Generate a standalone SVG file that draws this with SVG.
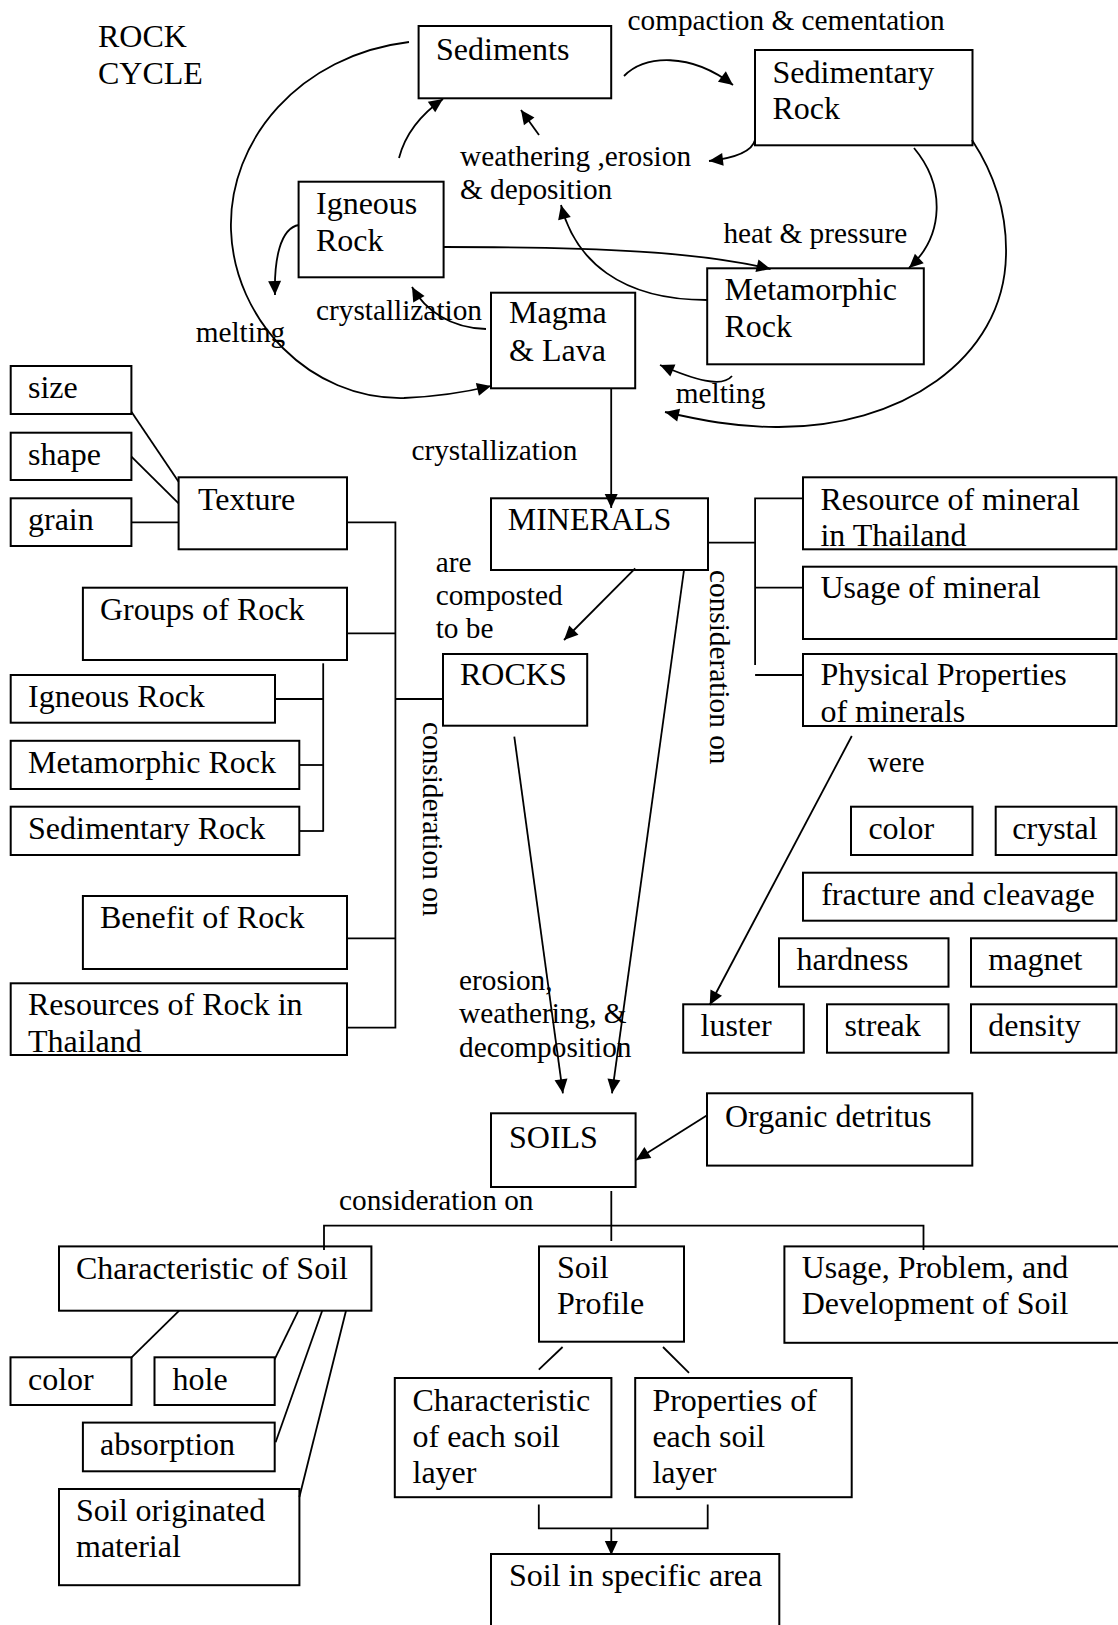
<svg xmlns="http://www.w3.org/2000/svg" width="1118" height="1625" viewBox="0 0 1118 1625">
<defs>
<marker id="ah" markerUnits="userSpaceOnUse" markerWidth="15" markerHeight="14" refX="14" refY="6.5" orient="auto" overflow="visible">
<path d="M0,0 L14,6.5 L0,13 z" fill="#000"/>
</marker>
<style>
rect{fill:#fff;stroke:#000;stroke-width:2}
text{font-family:"Liberation Serif","Times New Roman",serif;fill:#000}
.bt{font-size:32px}
.lb{font-size:29.3px}
#connectors path{fill:none;stroke:#000;stroke-width:1.8}
.arr{marker-end:url(#ah)}
</style>
</defs>
<rect x="0" y="0" width="1118" height="1625" style="fill:#fff;stroke:none"/>

<g id="labels">
<text class="bt" x="98" y="47">ROCK</text>
<text class="bt" x="98" y="84">CYCLE</text>
<text class="lb" x="627.5" y="30">compaction &amp; cementation</text>
<text class="lb" x="460" y="165.7">weathering ,erosion</text>
<text class="lb" x="460" y="199">&amp; deposition</text>
<text class="lb" x="723.4" y="242.7">heat &amp; pressure</text>
<text class="lb" x="316" y="320">crystallization</text>
<text class="lb" x="195.7" y="341.7">melting</text>
<text class="lb" x="675.8" y="403.3">melting</text>
<text class="lb" x="411.4" y="460">crystallization</text>
<text class="lb" x="435.7" y="571.7">are</text>
<text class="lb" x="435.7" y="605">composted</text>
<text class="lb" x="435.7" y="638.3">to be</text>
<text class="lb" transform="translate(423,722) rotate(90)">consideration on</text>
<text class="lb" transform="translate(710,570) rotate(90)">consideration on</text>
<text class="lb" x="867.7" y="771.7">were</text>
<text class="lb" x="459" y="990">erosion,</text>
<text class="lb" x="459" y="1023.3">weathering, &amp;</text>
<text class="lb" x="459" y="1056.7">decomposition</text>
<text class="lb" x="339" y="1210">consideration on</text>
</g>

<g id="sediments"><rect x="418.6" y="26" width="192.6" height="72.3"/><text class="bt" x="436" y="60">Sediments</text></g>
<g id="sedimentary-rock"><rect x="755" y="50" width="217.5" height="95.3"/><text class="bt" x="772.5" y="82.5">Sedimentary</text><text class="bt" x="772.5" y="119">Rock</text></g>
<g id="igneous-rock"><rect x="298.6" y="181.7" width="145" height="95.6"/><text class="bt" x="316" y="214">Igneous</text><text class="bt" x="316" y="250.5">Rock</text></g>
<g id="metamorphic-rock"><rect x="707.2" y="268.3" width="216.6" height="96"/><text class="bt" x="724.5" y="300">Metamorphic</text><text class="bt" x="724.5" y="337">Rock</text></g>
<g id="magma-lava"><rect x="491" y="292.7" width="144.2" height="95.6"/><text class="bt" x="509" y="323.3">Magma</text><text class="bt" x="509" y="361">&amp; Lava</text></g>

<g id="minerals"><rect x="491" y="498.3" width="217" height="71.7"/><text class="bt" x="507.7" y="530">MINERALS</text></g>
<g id="rocks"><rect x="443" y="654" width="144.2" height="71.7"/><text class="bt" x="460" y="685">ROCKS</text></g>

<g id="resource-mineral"><rect x="803" y="477.3" width="313.4" height="72"/><text class="bt" x="820.4" y="510">Resource of mineral</text><text class="bt" x="820.4" y="546">in Thailand</text></g>
<g id="usage-mineral"><rect x="803" y="566.7" width="313.4" height="72.3"/><text class="bt" x="820.4" y="598.3">Usage of mineral</text></g>
<g id="physical-properties"><rect x="803" y="654" width="313.4" height="72"/><text class="bt" x="820.4" y="685">Physical Properties</text><text class="bt" x="820.4" y="721.7">of minerals</text></g>

<g id="m-color"><rect x="851" y="806.7" width="121.5" height="48.3"/><text class="bt" x="868.4" y="839.3">color</text></g>
<g id="m-crystal"><rect x="995.7" y="806.7" width="120.7" height="48.3"/><text class="bt" x="1012.3" y="839.3">crystal</text></g>
<g id="m-fracture"><rect x="803" y="872.7" width="313.4" height="48"/><text class="bt" x="821.2" y="905">fracture and cleavage</text></g>
<g id="m-hardness"><rect x="779" y="938.3" width="169.5" height="48.4"/><text class="bt" x="796.5" y="970">hardness</text></g>
<g id="m-magnet"><rect x="971" y="938.3" width="145.4" height="48.4"/><text class="bt" x="988.3" y="970">magnet</text></g>
<g id="m-luster"><rect x="683.2" y="1004.3" width="120.6" height="48.4"/><text class="bt" x="700.5" y="1036">luster</text></g>
<g id="m-streak"><rect x="827" y="1004.3" width="121.5" height="48.4"/><text class="bt" x="844.4" y="1036">streak</text></g>
<g id="m-density"><rect x="971" y="1004.3" width="145.4" height="48.4"/><text class="bt" x="988.3" y="1036">density</text></g>

<g id="t-size"><rect x="10.7" y="366" width="120.7" height="48"/><text class="bt" x="28" y="398">size</text></g>
<g id="t-shape"><rect x="10.7" y="432.7" width="120.7" height="47.3"/><text class="bt" x="28" y="465">shape</text></g>
<g id="t-grain"><rect x="10.7" y="498.3" width="120.7" height="47.7"/><text class="bt" x="28" y="530">grain</text></g>
<g id="texture"><rect x="178.6" y="477.3" width="168.4" height="72"/><text class="bt" x="198" y="510">Texture</text></g>
<g id="groups-of-rock"><rect x="82.9" y="587.7" width="264.1" height="72.3"/><text class="bt" x="100" y="620">Groups of Rock</text></g>
<g id="g-igneous"><rect x="10.7" y="675" width="264.3" height="47.7"/><text class="bt" x="28" y="707">Igneous Rock</text></g>
<g id="g-metamorphic"><rect x="10.7" y="740.8" width="288.6" height="48.2"/><text class="bt" x="28" y="773">Metamorphic Rock</text></g>
<g id="g-sedimentary"><rect x="10.7" y="806.7" width="288.6" height="48.3"/><text class="bt" x="28" y="839">Sedimentary Rock</text></g>
<g id="benefit-rock"><rect x="82.9" y="896" width="264.1" height="73"/><text class="bt" x="100" y="928.3">Benefit of Rock</text></g>
<g id="resources-rock"><rect x="10.7" y="983.3" width="336.3" height="71.7"/><text class="bt" x="28" y="1015">Resources of Rock in</text><text class="bt" x="28" y="1051.7">Thailand</text></g>

<g id="organic-detritus"><rect x="707" y="1093.3" width="265.3" height="72.3"/><text class="bt" x="725" y="1127">Organic detritus</text></g>
<g id="soils"><rect x="491" y="1113.3" width="144.6" height="73.7"/><text class="bt" x="509" y="1148">SOILS</text></g>
<g id="char-soil"><rect x="59" y="1246.4" width="312.4" height="64.3"/><text class="bt" x="76" y="1278.5">Characteristic of Soil</text></g>
<g id="soil-profile"><rect x="539" y="1246.4" width="145" height="95.3"/><text class="bt" x="557" y="1277.5">Soil</text><text class="bt" x="557" y="1314">Profile</text></g>
<g id="usage-soil"><rect x="784.4" y="1246.4" width="345" height="96.4"/><text class="bt" x="801.7" y="1277.5">Usage, Problem, and</text><text class="bt" x="801.7" y="1314">Development of Soil</text></g>
<g id="s-color"><rect x="10.5" y="1357.3" width="121" height="47.7"/><text class="bt" x="28" y="1390">color</text></g>
<g id="s-hole"><rect x="154.5" y="1357.3" width="120.2" height="47.7"/><text class="bt" x="172.5" y="1390">hole</text></g>
<g id="s-absorption"><rect x="82.9" y="1422.6" width="191.8" height="48.7"/><text class="bt" x="100" y="1455">absorption</text></g>
<g id="s-originated"><rect x="59" y="1489" width="240.4" height="96.2"/><text class="bt" x="76" y="1521">Soil originated</text><text class="bt" x="76" y="1557">material</text></g>
<g id="char-layer"><rect x="394.8" y="1378" width="216.6" height="119.2"/><text class="bt" x="412.5" y="1410.5">Characteristic</text><text class="bt" x="412.5" y="1446.5">of each soil</text><text class="bt" x="412.5" y="1482.5">layer</text></g>
<g id="prop-layer"><rect x="635.2" y="1378" width="216.5" height="119.2"/><text class="bt" x="652.4" y="1410.5">Properties of</text><text class="bt" x="652.4" y="1446.5">each soil</text><text class="bt" x="652.4" y="1482.5">layer</text></g>
<g id="soil-area"><rect x="491" y="1554" width="288.3" height="80"/><text class="bt" x="509" y="1586">Soil in specific area</text></g>

<g id="connectors">
<!-- rock cycle -->
<path class="arr" d="M409,42 C300,55 228,140 231,230 C234,320 310,400 404,398 Q450,396 491,386"/>
<path class="arr" d="M399,158 C405,135 420,115 443,99"/>
<path class="arr" d="M539,135 L521,110"/>
<path class="arr" d="M624,76 C645,55 690,52 733,85"/>
<path class="arr" d="M755,140 C752,152 735,158 709,161"/>
<path class="arr" d="M914,148 C945,185 945,235 909,268"/>
<path class="arr" d="M972,140 C995,175 1007,215 1006,255 C1004,360 900,428 776,427 C735,427 700,420 665,412"/>
<path class="arr" d="M443.6,247 C600,247 700,252 770.6,269"/>
<path class="arr" d="M707,300 C620,300 575,260 561,205"/>
<path class="arr" d="M486,329 C450,328 425,310 412,287"/>
<path class="arr" d="M299,225 C280,228 274,260 275,295"/>
<path class="arr" d="M732,376 C722,388 695,380 660,365"/>
<path class="arr" d="M611.2,388.3 L611.2,508"/>
<!-- texture -->
<path d="M131.4,411.7 L178.6,481.7"/>
<path d="M131.4,456.7 L178.6,503.3"/>
<path d="M131.4,522.3 L178.6,522.3"/>
<!-- rocks bracket -->
<path d="M347,522.3 H395.4 V1027.7 H347"/>
<path d="M347,633.3 H395.4"/>
<path d="M347,938.3 H395.4"/>
<path d="M395.4,699 H443"/>
<path d="M323.2,663.3 V831.7"/>
<path d="M275,699 H323.2"/>
<path d="M299.3,765 H323.2"/>
<path d="M299.3,831 H323.2"/>
<!-- minerals bracket -->
<path d="M708,542.7 H755.1"/>
<path d="M803,498.3 H755.1 V665"/>
<path d="M755.1,587.7 H803"/>
<path d="M755.1,675 H803"/>
<path class="arr" d="M635.2,568.3 L564,640"/>
<path class="arr" d="M514.3,736.7 L562.9,1093.3"/>
<path class="arr" d="M684,570 L612,1093.3"/>
<path class="arr" d="M851.8,736 L709.7,1005"/>
<!-- soils -->
<path class="arr" d="M707.5,1115 L636,1160"/>
<path d="M611.3,1191 V1241"/>
<path d="M324,1250 V1225.7 H923.5 V1250"/>
<path d="M562.6,1347 L538.8,1369.7"/>
<path d="M663,1347 L689,1372.8"/>
<path d="M179.2,1310.7 L131.6,1357.3"/>
<path d="M298.4,1310.7 L274.6,1359.3"/>
<path d="M322.2,1310.7 L275.6,1442.3"/>
<path d="M346,1310.7 L299.4,1497"/>
<path d="M538.8,1504.4 V1528.3 H707.7 V1504.4"/>
<path class="arr" d="M611.3,1528.3 V1555"/>
</g>
</svg>
